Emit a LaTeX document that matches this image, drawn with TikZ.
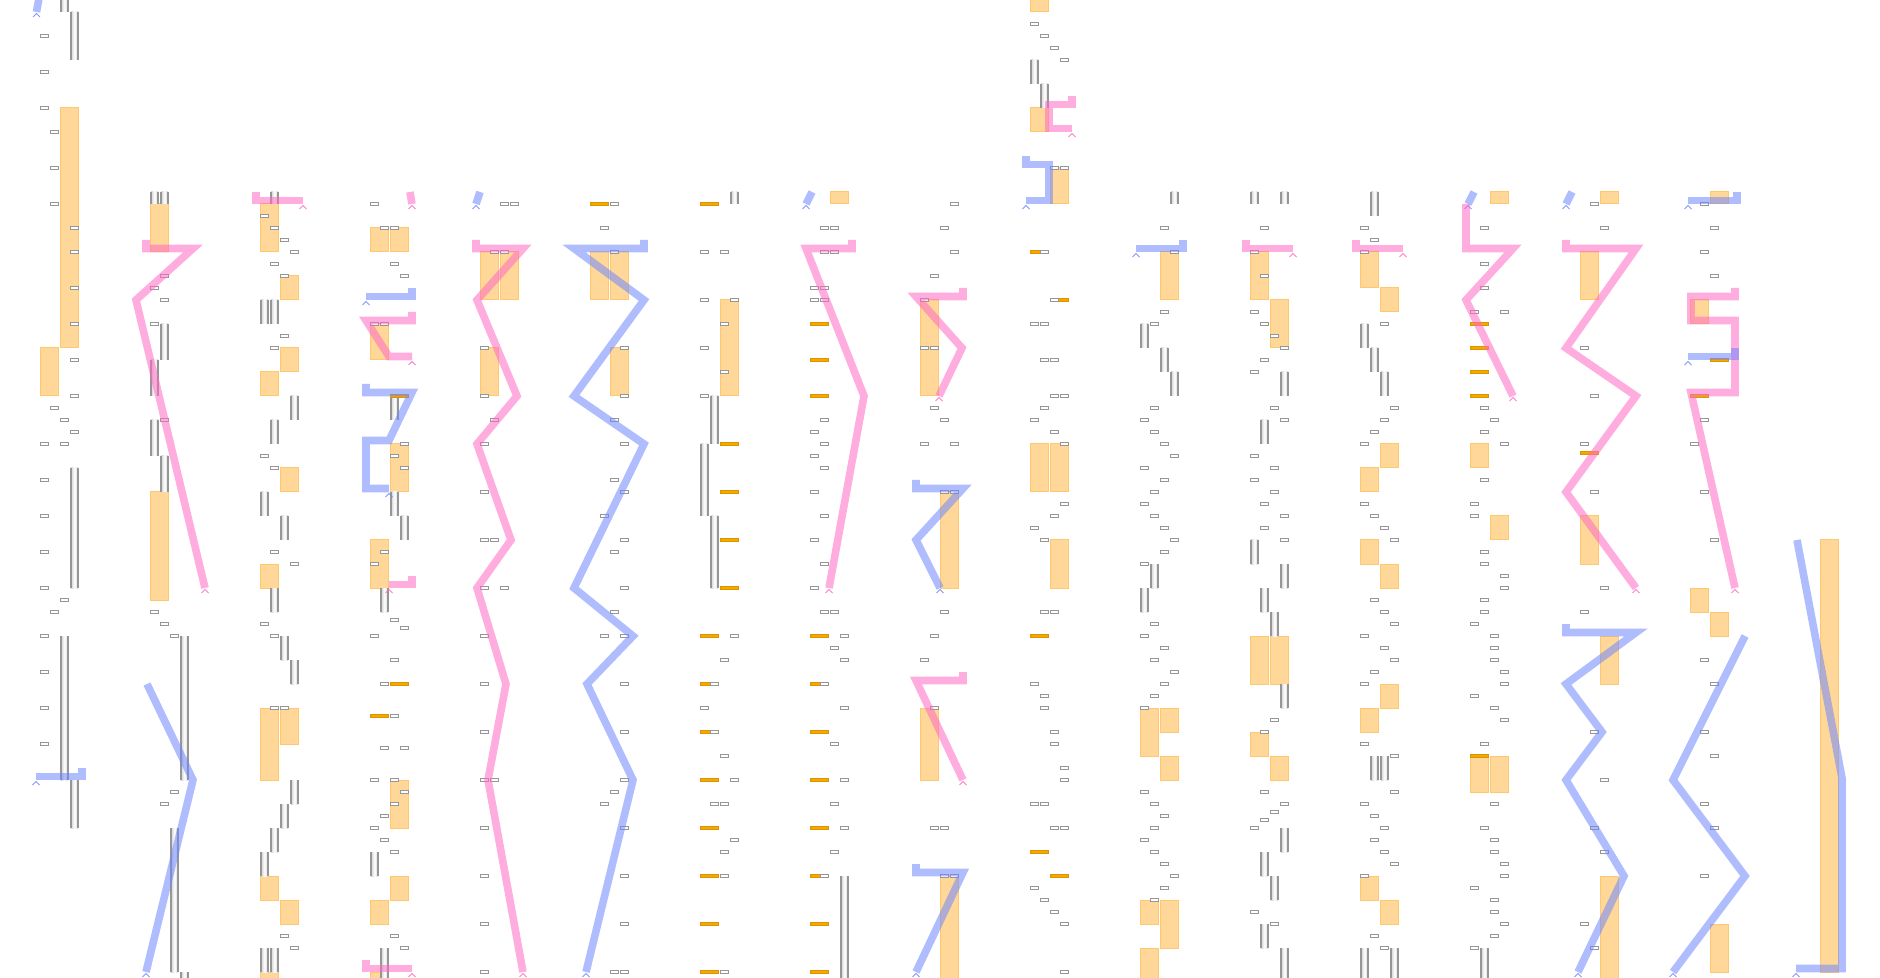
\documentclass[tikz,border=0pt]{standalone}
\definecolor{barfill}{RGB}{255,216,153}
\definecolor{barline}{RGB}{255,199,110}
\definecolor{dashfill}{RGB}{245,168,0}
\definecolor{dashline}{RGB}{222,148,0}
\definecolor{slotgray}{RGB}{150,150,150}
\definecolor{tubegray}{RGB}{150,150,150}
\definecolor{wirepink}{RGB}{255,105,195}
\definecolor{wireblue}{RGB}{110,135,255}
% one lane = four 10px columns, rows every 12px
\newcommand{\laneslots}[1]{\foreach \col/\row in {#1}{\draw[slotbox](10*\col,12*\row-1.4)rectangle++(8.5,2.8);}}
\newcommand{\lanebars}[1]{\foreach \col/\ra/\rb in {#1}{\draw[orangebar](10*\col+0.3,12*\ra)rectangle(10*\col+18.6,12*\rb);}}
\newcommand{\lanetubes}[1]{\foreach \col/\ra/\rb in {#1}{%
  \shade[tubefill](10*\col+1,12*\ra)rectangle(10*\col+8,12*\rb);
  \draw[tubeedge](10*\col+1,12*\ra)--(10*\col+1,12*\rb)(10*\col+8,12*\ra)--(10*\col+8,12*\rb);}}
\newcommand{\lanedashes}[1]{\foreach \col/\row in {#1}{\draw[orangedash](10*\col+0.3,12*\row-1.3)rectangle++(18.3,2.6);}}
\newcommand{\wire}[4]{\draw[wire,#1]#2;\draw[caretmark,#1](#3-3.5,#4+5)--(#3,#4+1.5)--(#3+3.5,#4+5);}
\begin{document}
\begin{tikzpicture}[x=0.5pt,y=-0.5pt,
  slotbox/.style={draw=slotgray,fill=white,line width=0.5pt},
  orangebar/.style={draw=barline,fill=barfill,line width=0.5pt},
  tubefill/.style={left color=gray!35,right color=gray!35,middle color=white},
  tubeedge/.style={draw=tubegray,line width=0.6pt},
  orangedash/.style={draw=dashline,fill=dashfill,line width=0.4pt},
  wire/.style={line width=3.8pt,line join=miter,draw opacity=0.55},
  pinkwire/.style={draw=wirepink},
  bluewire/.style={draw=wireblue},
  caretmark/.style={line width=0.5pt,draw opacity=0.85}]
  \fill[white](0,0)rectangle(1880,978);
  \useasboundingbox(0,0)rectangle(1880,978);

  % lane 1
  \begin{scope}[shift={(40,0)}]
    \lanebars{2/9/29,0/29/33}
    \lanetubes{2/0/1,3/1/5,3/39/49,2/53/65,3/65/69}
    \laneslots{0/3,0/6,0/9,1/11,1/14,1/17,3/19,3/21,3/24,3/27,3/30,3/33,1/34,2/35,3/36,0/37,2/37,0/40,0/43,0/46,0/49,2/50,1/51,0/53,0/56,0/59,0/62}
  \end{scope}
  % lane 2
  \begin{scope}[shift={(150,0)}]
    \lanebars{0/17/21,0/41/50}
    \lanetubes{0/16/17,1/16/17,1/27/30,0/30/33,0/35/38,1/38/41,3/53/65,2/69/81,3/81/81.5}
    \laneslots{1/23,0/24,1/25,0/27,1/35,0/51,1/52,2/53,2/66,1/67}
  \end{scope}
  % lane 3
  \begin{scope}[shift={(260,0)}]
    \lanebars{0/17/21,2/23/25,2/29/31,0/31/33,2/39/41,0/47/49,0/59/65,2/59/62,0/73/75,2/75/77,0/81/81.5}
    \lanetubes{1/16/17,0/25/27,1/25/27,3/33/35,1/35/37,0/41/43,2/43/45,1/49/51,2/53/55,3/55/57,3/65/67,2/67/69,1/69/71,0/71/73,0/79/81,1/79/81}
    \laneslots{0/18,1/19,2/20,3/21,1/22,2/23,2/28,1/29,0/38,1/39,1/46,3/47,0/52,1/53,1/59,2/59,2/78,3/79}
  \end{scope}
  % lane 4
  \begin{scope}[shift={(370,0)}]
    \lanebars{0/19/21,2/19/21,0/27/30,2/37/41,0/45/49,2/65/69,2/73/75,0/75/77,0/81/81.5}
    \lanetubes{2/33/35,2/41/43,3/43/45,1/49/51,0/71/73,1/79/81.5}
    \lanedashes{2/33,2/57,0/59.65}
    \laneslots{0/17,1/19,2/19,2/22,3/23,0/27,1/27,3/37,2/38,3/39,1/46,0/47,2/51.65,3/52.3,0/53,2/55,1/57,2/59.65,1/62.3,3/62.3,0/65,2/65,3/66,2/67,1/68,0/69,1/70,2/71,2/78,3/79}
  \end{scope}
  % lane 5
  \begin{scope}[shift={(480,0)}]
    \lanebars{0/21/25,2/21/25,0/29/33}
    \laneslots{2/17,3/17,1/21,2/21,0/29,0/33,1/35,0/37,0/41,0/45,1/45,0/49,2/49,0/53,0/57,0/61,0/65,1/65,0/69,0/73,0/77,0/81}
  \end{scope}
  % lane 6
  \begin{scope}[shift={(590,0)}]
    \lanebars{0/21/25,2/21/25,2/29/33}
    \lanedashes{0/17}
    \laneslots{2/17,1/19,2/21,3/29,3/33,2/35,3/37,2/40,3/41,1/43,3/45,2/46,3/49,2/51,1/53,3/53,3/57,3/61,3/65,2/66,1/67,3/69,3/73,3/77,2/81,3/81}
  \end{scope}
  % lane 7
  \begin{scope}[shift={(700,0)}]
    \lanebars{2/25/33}
    \lanetubes{3/16/17,1/33/37,0/37/43,1/43/49}
    \lanedashes{0/17,2/37,2/41,2/45,2/49,0/53,0/57,0/61,0/65,0/69,0/73,0/77,0/81}
    \laneslots{0/21,2/21,0/25,3/25,2/27,0/29,2/31,0/33,3/53,2/55,1/57,0/59,1/61,2/63,3/65,1/67,2/67,3/70,2/71,2/73,2/81}
  \end{scope}
  % lane 8
  \begin{scope}[shift={(810,0)}]
    \lanebars{2/16/17}
    \lanetubes{3/73/81.5}
    \lanedashes{0/27,0/30,0/33,0/53,0/57,0/61,0/65,0/69,0/73,0/77,0/81}
    \laneslots{1/19,2/19,1/21,2/21,0/24,1/24,0/25,1/25,1/35,0/36,1/37,0/38,1/39,0/41,1/43,0/45,1/47,0/49,1/51,2/51,3/53,2/54,3/55,1/57,3/59,2/62,3/65,2/67,3/69,2/71,1/73}
  \end{scope}
  % lane 9
  \begin{scope}[shift={(920,0)}]
    \lanebars{0/25/33,2/41/49,0/59/65,2/73/81.5}
    \laneslots{3/17,2/19,3/21,1/23,0/25,0/29,1/29,1/34,2/35,0/37,3/37,2/41,3/41,2/51,1/53,0/55,1/59,1/69,2/69,2/73,3/73}
  \end{scope}
  % lane 10
  \begin{scope}[shift={(1030,0)}]
    \lanebars{0/-1/1,0/9/11,2/14/17,0/37/41,2/37/41,2/45/49}
    \lanetubes{0/5/7,1/7/9}
    \lanedashes{0/21,2/25,0/53,0/71,2/73}
    \laneslots{0/2,1/3,2/4,3/5,2/14,3/14,1/21,2/25,0/27,1/27,1/30,2/30,2/33,3/33,1/34,0/35,2/36,3/37,3/42,2/43,0/44,1/45,1/51,2/51,0/57,1/58,1/59,2/61,2/62,3/64,3/65,0/67,1/67,2/69,3/69,0/74,1/75,2/76,3/77,3/81}
  \end{scope}
  % lane 11
  \begin{scope}[shift={(1140,0)}]
    \lanebars{2/21/25,0/59/63,2/59/61,2/63/65,0/75/77,2/75/79,0/79/81.5}
    \lanetubes{3/16/17,0/27/29,2/29/31,3/31/33,1/47/49,0/49/51}
    \laneslots{2/19,3/21,2/26,1/27,1/34,0/35,1/36,2/37,3/38,0/39,2/40,1/41,0/42,1/43,2/44,3/45,2/46,0/47,1/52,0/53,2/54,1/55,3/56,2/57,1/58,0/59,0/66,1/67,2/68,1/69,0/70,1/71,2/72,3/73,2/74,1/75}
  \end{scope}
  % lane 12
  \begin{scope}[shift={(1250,0)}]
    \lanebars{0/21/25,2/25/29,0/53/57,2/53/57,0/61/63,2/63/65}
    \lanetubes{0/16/17,3/16/17,3/31/33,1/35/37,0/45/47,3/47/49,1/49/51,2/51/53,3/57/59,3/69/71,1/71/73,2/73/75,1/77/79,3/79/81.5}
    \laneslots{1/19,0/21,1/23,0/26,1/27,2/28,3/29,1/30,0/31,2/34,3/35,0/38,2/39,0/40,2/41,1/42,3/43,1/44,3/45,2/60,1/61,1/66,3/67,2/67.65,1/68.3,0/69,0/76,2/77}
  \end{scope}
  % lane 13
  \begin{scope}[shift={(1360,0)}]
    \lanebars{0/21/24,2/24/26,2/37/39,0/39/41,0/45/47,2/47/49,2/57/59,0/59/61,0/73/75,2/75/77}
    \lanetubes{1/16/18,0/27/29,1/29/31,2/31/33,1/63/65,2/63/65,0/79/81.5,3/79/81.5}
    \laneslots{0/19,1/20,0/21,2/27,3/34,2/35,1/36,0/37,0/42,1/43,2/44,3/45,1/50,2/51,3/52,0/53,2/54,3/55,1/56,0/57,0/62,3/63,3/66,0/67,1/68,2/69,1/70,2/71,3/72,0/73,1/78,2/79}
  \end{scope}
  % lane 14
  \begin{scope}[shift={(1470,0)}]
    \lanebars{2/16/17,0/37/39,2/43/45,0/63/66,2/63/66}
    \lanetubes{1/79/81.5}
    \lanedashes{0/27,0/29,0/31,0/33,0/63}
    \laneslots{1/19,1/22,1/24,0/26,3/26,1/34,2/35,1/36,3/37,1/40,0/42,0/43,1/46,1/47,3/48,3/49,1/50,1/51,0/52,2/53,2/54,2/55,3/56,3/57,0/58,2/59,3/60,1/62,2/67,1/69,2/70,2/71,3/72,3/73,0/74,2/75,2/76,3/77,2/78,0/79}
  \end{scope}
  % lane 15
  \begin{scope}[shift={(1580,0)}]
    \lanebars{2/16/17,0/21/25,0/43/47,2/53/57,2/73/81.5}
    \lanedashes{0/37.75}
    \laneslots{1/17,2/19,0/29,1/33,0/37,1/41,2/49,0/51,1/61,2/65,1/69,2/71,0/77,1/79}
  \end{scope}
  % lane 16
  \begin{scope}[shift={(1690,0)}]
    \lanebars{2/16/17,0/25/27,0/49/51,2/51/53,2/77/81}
    \lanedashes{2/30,0/33}
    \laneslots{1/17,2/19,1/21,2/23,1/35,0/37,1/41,2/45,1/55,2/57,1/61,2/63,1/67,2/69,1/73}
  \end{scope}
  % lane 17
  \begin{scope}[shift={(1800,0)}]
    \lanebars{2/45/81}
  \end{scope}

  % wires
  \wire{bluewire}{(39,-2)--(36.5,12)}{36.5}{12}
  \wire{bluewire}{(82,768)--(82,776.5)--(36,776.5)}{36}{780}
  \wire{pinkwire}{(146,240)--(146,248.5)--(193,248.5)--(136,300)--(205,588)}{205}{588}
  \wire{bluewire}{(147,684)--(193,780)--(146,972)}{146}{972}
  \wire{pinkwire}{(256,192)--(256,200.5)--(303,200.5)}{303}{204}
  \wire{pinkwire}{(410,192)--(412,204)}{412}{204}
  \wire{bluewire}{(412,288)--(412,296.5)--(366,296.5)}{366}{300}
  \wire{pinkwire}{(412,312)--(412,320.5)--(366,320.5)--(389,356.5)--(412,356.5)}{412}{360}
  \wire{bluewire}{(366,384)--(366,392.5)--(412,392.5)--(389,440.5)--(366,440.5)--(366,488.5)--(389,488.5)}{389}{492}
  \wire{pinkwire}{(412,576)--(412,584.5)--(389,584.5)}{389}{588}
  \wire{pinkwire}{(366,960)--(366,968.5)--(412,968.5)}{412}{972}
  \wire{bluewire}{(480,192)--(476,204)}{476}{204}
  \wire{pinkwire}{(476,240)--(476,248.5)--(523,248.5)--(477,300)--(517,396)--(477,444)--(511,540)--(477,588)--(506,684)--(488,780)--(523,972)}{523}{972}
  \wire{bluewire}{(644,240)--(644,248.5)--(574,248.5)--(644,300)--(574,396)--(644,444)--(574,588)--(633,636)--(587,684)--(633,780)--(586,972)}{586}{972}
  \wire{bluewire}{(812,192)--(806,204)}{806}{204}
  \wire{pinkwire}{(852,240)--(852,248.5)--(806,248.5)--(864,396)--(829,588)}{829}{588}
  \wire{pinkwire}{(963,288)--(963,296.5)--(916,296.5)--(962,348)--(939,396)}{939}{396}
  \wire{bluewire}{(916,480)--(916,488.5)--(963,488.5)--(916,540)--(940,588)}{940}{588}
  \wire{pinkwire}{(963,672)--(963,680.5)--(916,680.5)--(963,780)}{963}{780}
  \wire{bluewire}{(916,864)--(916,872.5)--(963,872.5)--(916,972)}{916}{972}
  \wire{pinkwire}{(1072,96)--(1072,104.5)--(1049,104.5)--(1049,128.5)--(1072,128.5)}{1072}{132}
  \wire{bluewire}{(1026,156)--(1026,164.5)--(1049,164.5)--(1049,200.5)--(1026,200.5)}{1026}{204}
  \wire{bluewire}{(1183,240)--(1183,248.5)--(1136,248.5)}{1136}{252}
  \wire{pinkwire}{(1246,240)--(1246,248.5)--(1293,248.5)}{1293}{252}
  \wire{pinkwire}{(1356,240)--(1356,248.5)--(1403,248.5)}{1403}{252}
  \wire{bluewire}{(1474,192)--(1468,204)}{1468}{204}
  \wire{pinkwire}{(1466,204)--(1466,248.5)--(1513,248.5)--(1466,300)--(1513,396)}{1513}{396}
  \wire{bluewire}{(1572,192)--(1566,204)}{1566}{204}
  \wire{pinkwire}{(1566,240)--(1566,248.5)--(1636,248.5)--(1566,348)--(1636,396)--(1566,492)--(1636,588)}{1636}{588}
  \wire{bluewire}{(1566,624)--(1566,632.5)--(1636,632.5)--(1566,684)--(1602,732)--(1566,780)--(1624,876)--(1578,972)}{1578}{972}
  \wire{bluewire}{(1737,192)--(1737,200.5)--(1688,200.5)}{1688}{204}
  \wire{pinkwire}{(1735,288)--(1735,296.5)--(1691,296.5)--(1691,320.5)--(1735,320.5)--(1735,392.5)--(1691,392.5)--(1735,588)}{1735}{588}
  \wire{bluewire}{(1735,348)--(1735,356.5)--(1688,356.5)}{1688}{360}
  \wire{bluewire}{(1745,636)--(1673,780)--(1745,876)--(1673,972)}{1673}{972}
  \wire{bluewire}{(1797,540)--(1842,778)--(1842,968.5)--(1796,968.5)}{1796}{972}
\end{tikzpicture}
\end{document}
